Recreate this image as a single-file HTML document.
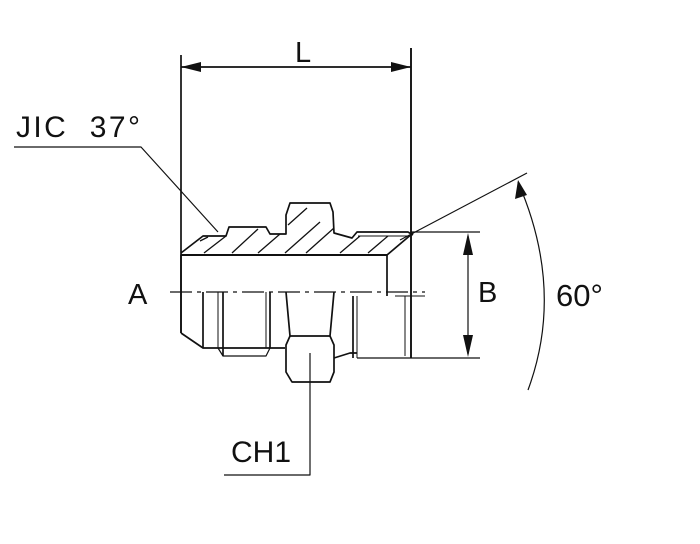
<!DOCTYPE html>
<html><head><meta charset="utf-8"><style>
html,body{margin:0;padding:0;background:#fff;}
svg{display:block;}
text{font-family:"Liberation Sans","DejaVu Sans",sans-serif;fill:#111;}
</style></head><body>
<svg width="700" height="544" viewBox="0 0 700 544" xmlns="http://www.w3.org/2000/svg">
<g fill="none" stroke="#111" stroke-width="1.7" stroke-linejoin="round">
<line x1="181" y1="55" x2="181" y2="333"/>
<line x1="411" y1="48" x2="411" y2="358" stroke-width="1.9"/>
<line x1="181" y1="67" x2="411" y2="67"/>
<polyline points="181,253 203,236 226,236 229,227 266,227 270,234 286,234 286,215 290,203 330,203 333,212 334,233 352,238 357,232 408,232 413,235"/>
<line x1="181" y1="255" x2="387" y2="255" stroke-width="2.1"/>
<line x1="387" y1="255" x2="413" y2="233"/>
<line x1="387" y1="255" x2="387" y2="296"/>
<line x1="358" y1="236" x2="408" y2="236" stroke-width="1"/>
<g stroke-width="1.3">
<line x1="204" y1="253" x2="226" y2="236"/>
<line x1="232" y1="253" x2="258" y2="229"/>
<line x1="258" y1="253" x2="280" y2="234"/>
<line x1="285" y1="253" x2="320" y2="222"/>
<line x1="306" y1="253" x2="334" y2="228"/>
<line x1="288" y1="225" x2="307" y2="208"/>
<line x1="340" y1="253" x2="360" y2="236"/>
<line x1="368" y1="253" x2="388" y2="236"/>
<line x1="200" y1="241" x2="208" y2="237"/>
</g>
<line x1="181" y1="255" x2="181" y2="333"/>
<polyline points="181,333 203,348 285,348"/>
<line x1="203" y1="292" x2="203" y2="348"/>
<line x1="218" y1="292" x2="218" y2="348" stroke-width="1"/>
<line x1="223" y1="292" x2="223" y2="356"/>
<line x1="266" y1="292" x2="266" y2="348" stroke-width="1"/>
<line x1="270" y1="292" x2="270" y2="348"/>
<polyline points="218,348 223,356 266,356 270,348" stroke-width="1.2"/>
<path d="M286,292 L290,336 L286,345 L286,372 L292,382 L330,382 L334,372 L334,345 L330,336 L334,292"/>
<line x1="290" y1="336" x2="330" y2="336"/>
<polyline points="334,358 350,353 357,353"/>
<line x1="353" y1="296" x2="353" y2="358"/>
<line x1="357" y1="296" x2="357" y2="358" stroke-width="1"/>
<line x1="405" y1="296" x2="405" y2="356" stroke-width="1"/>
<line x1="357" y1="358" x2="480" y2="358" stroke-width="1.2"/>
<line x1="411" y1="232" x2="480" y2="232" stroke-width="1.2"/>
<line x1="395" y1="296" x2="425" y2="296" stroke-width="1"/>
<line x1="170" y1="292" x2="425" y2="292" stroke-width="1.2" stroke-dasharray="22,5,4,5"/>
<line x1="468" y1="236" x2="468" y2="354" stroke-width="1.2"/>
<line x1="400" y1="240" x2="527" y2="173" stroke-width="1.2"/>
<path d="M518,182 Q565,290 528,390" stroke-width="1.2"/>
<polyline points="14,147 141,147 218,232" stroke-width="1.2"/>
<polyline points="224,475 310,475 310,353" stroke-width="1.2"/>
</g>
<g fill="#111">
<polygon points="181,67 201,62 201,72"/>
<polygon points="411,67 391,62 391,72"/>
<polygon points="468,233 463,255 473,255"/>
<polygon points="468,357 463,335 473,335"/>
<polygon points="518,180 515,199 527,195"/>
</g>
<text x="295" y="62" font-size="29">L</text>
<text x="16" y="137" font-size="30" textLength="124" lengthAdjust="spacing">JIC&#160;&#160;37°</text>
<text x="128" y="304" font-size="29">A</text>
<text x="478" y="302" font-size="29">B</text>
<text x="556" y="306" font-size="31">60°</text>
<text x="231" y="462" font-size="30">CH1</text>
</svg>
</body></html>
